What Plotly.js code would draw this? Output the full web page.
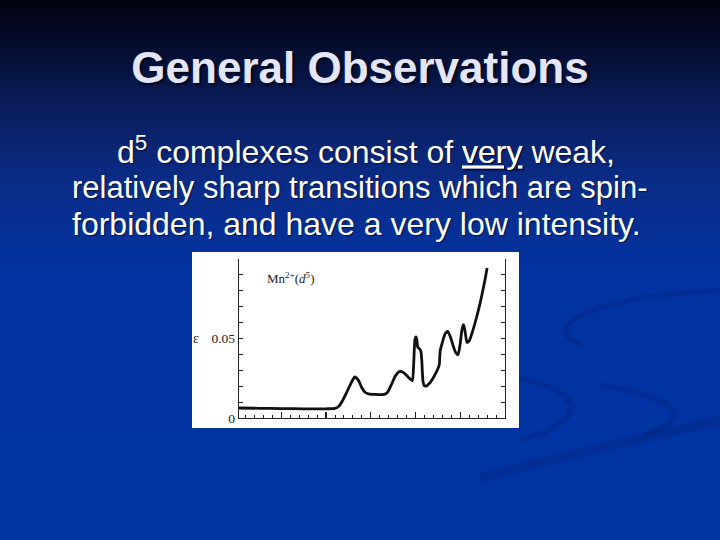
<!DOCTYPE html>
<html>
<head>
<meta charset="utf-8">
<script src="https://cdn.plot.ly/plotly-3.0.1.min.js"></script>
<style>
html,body{margin:0;padding:0;width:720px;height:540px;overflow:hidden;}
body{background:linear-gradient(to bottom,#01030e 0%,#040c2c 8%,#0a1d5c 20%,#0a2c88 34%,#0233a0 50%,#0035a4 100%);}
#chart{width:720px;height:540px;}
</style>
</head>
<body>
<div id="chart"></div>
<script>
// Mn2+(d5) absorption spectrum, x in major-tick units (unlabelled), epsilon values
const wavenumber = [0.053,0.5,1.0,1.5,2.0,2.2,2.28,2.36,2.45,2.55,2.64,2.72,2.80,2.87,2.95,3.1,3.3,3.37,3.46,3.55,3.64,3.72,3.80,3.88,3.93,3.96,3.985,4.01,4.03,4.05,4.09,4.12,4.14,4.165,4.2,4.25,4.35,4.45,4.53,4.55,4.6,4.66,4.72,4.78,4.84,4.9,4.95,5.0,5.04,5.075,5.11,5.15,5.2,5.28,5.36,5.45,5.51,5.56,5.60];
const epsilon = [0.0063,0.0061,0.0059,0.0058,0.0058,0.006,0.0072,0.0105,0.0155,0.0215,0.0258,0.0238,0.019,0.0162,0.0152,0.0148,0.0148,0.016,0.021,0.0265,0.0292,0.0288,0.0268,0.0245,0.0235,0.035,0.049,0.051,0.049,0.0445,0.0435,0.042,0.036,0.0235,0.0202,0.0203,0.0232,0.028,0.0335,0.042,0.0475,0.053,0.0545,0.051,0.0455,0.041,0.0398,0.047,0.056,0.0587,0.054,0.0475,0.0485,0.055,0.0629,0.073,0.081,0.088,0.0943];
const yTickVals = [0,0.01,0.02,0.03,0.04,0.05,0.06,0.07,0.08,0.09,0.1];
const yTickText = ['0','','','','','0.05','','','','',''];
const xMajorTicks = [1,2,3,4,5];
const titleText = 'General Observations';
const bodyLines = [
  'd<sup>5</sup> complexes consist of <u>very</u> weak,',
  'relatively sharp transitions which are spin-',
  'forbidden, and have a very low intensity.'
];
const seriesLabel = 'Mn<sup>2+</sup>(<i>d</i><sup>5</sup>)';
const yLabel = 'ε';

// pixel -> paper helpers (plot area: x 239..505, y 259..418)
const L=239, R=505, T=259, B=418;
const px = v => (v-L)/(R-L);
const py = v => (B-v)/(B-T);

const trace = {
  x: wavenumber, y: epsilon, type:'scatter', mode:'lines',
  line:{color:'#111', width:2.8, shape:'spline', smoothing:0.5},
  hoverinfo:'skip'
};

function pathFrom(pts){
  return pts.map((p,i)=>(i?'L':'M')+px(p[0]).toFixed(4)+','+py(p[1]).toFixed(4)).join(' ');
}
const swoosh = 'rgba(0,22,95,0.2)';
function band(pts, w){
  return {type:'path', xref:'paper', yref:'paper', layer:'below', path:pathFrom(pts), line:{color:swoosh, width:w}};
}

const bodyFont = s => ({family:'Liberation Sans, Arial, sans-serif', size:s, color:'#ffffff', shadow:'1px 1px 1px rgba(0,0,30,0.6)'});

const layout = {
  width:720, height:540,
  margin:{l:L, r:720-R, t:T, b:540-B, pad:0},
  paper_bgcolor:'rgba(0,0,0,0)', plot_bgcolor:'#ffffff',
  showlegend:false,
  title:{text:titleText, x:0.5, xref:'container', xanchor:'center', y:1-68/540, yref:'container', yanchor:'middle',
    font:{family:'Liberation Sans, Arial, sans-serif', size:44, weight:700, color:'#e4e6f8', shadow:'2px 2px 2px rgba(0,0,20,0.8)'}},
  xaxis:{range:[0.053,6], showline:true, linecolor:'#222', linewidth:1.3, mirror:false,
    ticks:'inside', tickvals:xMajorTicks, ticklen:6, tickwidth:1.2, tickcolor:'#222',
    showticklabels:false, showgrid:false, zeroline:false,
    minor:{dtick:0.2, tick0:0, ticks:'inside', ticklen:3, tickwidth:1, tickcolor:'#222', showgrid:false}},
  yaxis:{range:[0,0.1], showline:true, linecolor:'#222', linewidth:1.3, mirror:'ticks',
    ticks:'inside', tickvals:yTickVals, ticktext:yTickText, ticklen:4, tickwidth:1.1, tickcolor:'#222',
    showgrid:false, zeroline:false,
    tickfont:{family:'Liberation Serif, Times New Roman, serif', size:13.5, color:'#222'}},
  shapes:[
    band([[720,290],[680,293],[640,298],[600,308],[575,318],[565,328],[568,338],[582,346]], 5),
    band([[520,378],[545,385],[565,395],[572,407],[565,420],[545,432],[520,440]], 6),
    band([[600,385],[635,392],[665,403],[676,413],[668,425],[645,435]], 6),
    band([[480,478],[540,462],[600,448],[660,434],[720,420]], 10),
    {type:'rect', xref:'paper', yref:'paper', layer:'below',
     x0:px(192), x1:px(519), y0:py(428), y1:py(252), fillcolor:'#ffffff', line:{width:0}}
  ],
  annotations:[
    {text:bodyLines[0], xref:'paper', yref:'paper', x:px(115), y:py(150), xanchor:'left', yanchor:'middle', showarrow:false, font:bodyFont(32)},
    {text:bodyLines[1], xref:'paper', yref:'paper', x:px(70), y:py(187), xanchor:'left', yanchor:'middle', showarrow:false, font:bodyFont(31)},
    {text:bodyLines[2], xref:'paper', yref:'paper', x:px(70), y:py(224), xanchor:'left', yanchor:'middle', showarrow:false, font:bodyFont(32)},
    {text:seriesLabel, xref:'x', yref:'y', x:0.63, y:0.088, xanchor:'left', yanchor:'middle', showarrow:false,
     font:{family:'Liberation Serif, Times New Roman, serif', size:13, color:'#222'}},
    {text:yLabel, xref:'paper', yref:'y', x:px(196), y:0.05, xanchor:'center', yanchor:'middle', showarrow:false,
     font:{family:'Liberation Serif, Times New Roman, serif', size:14, color:'#222'}}
  ]
};

Plotly.newPlot('chart',[trace],layout,{displayModeBar:false, staticPlot:true});
</script>
</body>
</html>
